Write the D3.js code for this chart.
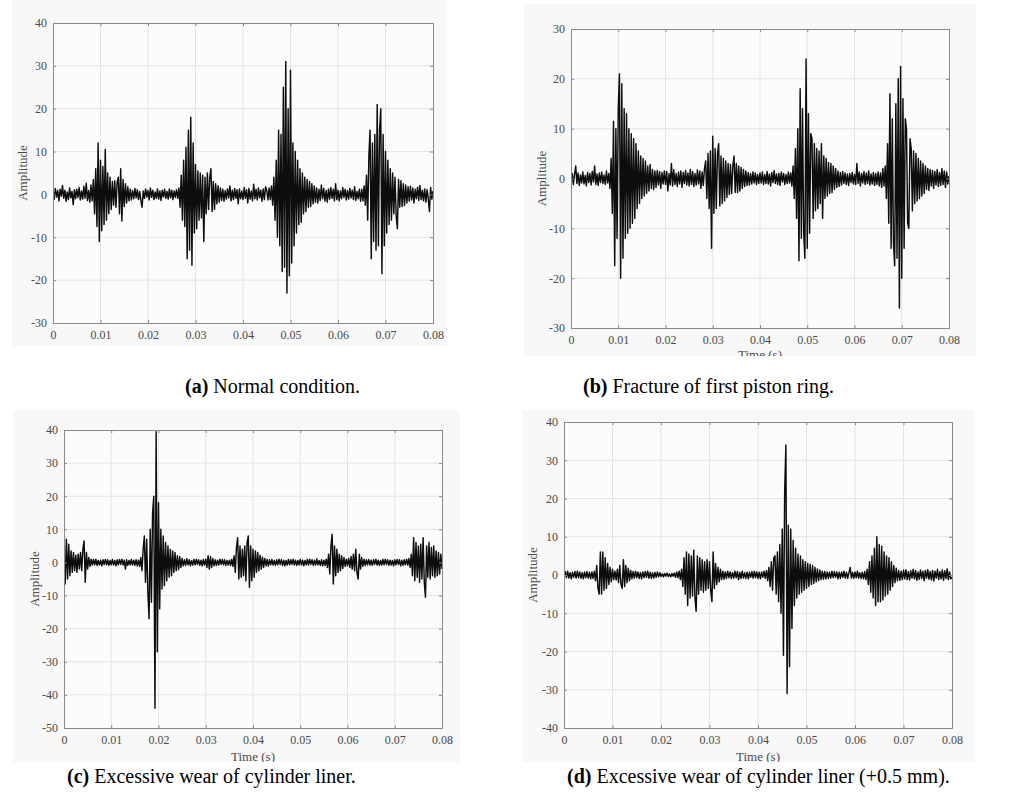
<!DOCTYPE html>
<html>
<head>
<meta charset="utf-8">
<script src="https://cdn.jsdelivr.net/npm/d3@7"></script>
<style>
  body { margin: 0; background: #fff; }
  text { font-family: "Liberation Serif", "Times New Roman", serif; }
</style>
</head>
<body>
<svg id="fig" width="1020" height="809"></svg>
<script>
// Sampling interval of the vibration records (s); each row below spans 0.005 s
const sampleStep = 0.00025;

// Time axis ticks shared by every panel
const timeTicks = [0, 0.01, 0.02, 0.03, 0.04, 0.05, 0.06, 0.07, 0.08];
const timeTickLabels = ["0", "0.01", "0.02", "0.03", "0.04", "0.05", "0.06", "0.07", "0.08"];

// (a) Normal condition
const normalSignal = [
  0.3, -1.1, 1.4, -0.6, 0.9, -1.5, 1.2, -0.4, 2.1, -0.9, 1.0, -1.6, 0.6, -1.2, 1.5, -0.8, 0.7, -2.4, 1.1, -1.0,
  1.2, -0.7, 1.6, -1.3, 0.8, -1.1, 1.9, -0.9, 2.6, -1.4, 0.9, -1.8, 2.2, -1.5, 3.5, -4.5, 6.0, -7.5, 12.0, -11.0,
  8.0, -8.5, 6.5, -7.0, 10.5, -6.0, 5.0, -4.5, 4.0, -3.5, 3.0, -2.5, 3.2, -3.0, 2.8, 4.0, -4.5, 6.0, -6.2, 3.5,
  -2.8, 2.5, -2.0, 1.8, -1.5, 1.2, -1.3, 0.9, -1.0, 1.4, -0.8, 1.1, -1.2, 0.7, -1.4, -3.0, 0.8, -0.9, 1.3, -0.6,
  0.9, -1.3, 1.5, -0.7, 1.0, -1.2, 0.6, -0.9, 1.3, -1.1, 0.8, -1.4, 1.0, -0.6, 1.2, -0.9, 0.7, -1.1, 1.3, -0.8,
  1.0, -1.2, 0.8, -0.7, 1.1, -0.9, 1.5, -3.0, 4.5, -6.0, 8.0, -7.5, 11.0, -15.0, 15.0, -13.0, 18.0, -16.5, 12.0, -9.0,
  7.0, -8.0, 5.5, -6.0, 5.0, -5.5, 4.5, -11.0, 4.0, -4.5, 5.0, -3.5, 4.0, 6.0, -4.0, 3.0, -3.5, 2.5, -2.2, 2.0,
  -1.8, 1.5, -1.4, 1.2, -1.6, 0.9, -1.1, 1.3, -0.8, 2.0, -1.5, 1.0, -1.2, 1.4, -0.9, 1.1, -2.2, 1.3, -1.0, 0.8,
  -1.2, 1.6, -0.9, 1.1, -2.0, 1.4, -1.1, 0.8, -1.5, 2.4, -1.0, 1.2, -1.3, 1.5, -0.8, 1.0, -1.6, 1.3, -1.2, 1.8,
  1.0, -1.3, 1.5, -1.2, 2.0, -2.5, 4.0, -6.0, 8.0, -10.0, 15.0, -12.0, 14.0, -18.0, 25.0, -17.0, 31.0, -23.0, 20.0, -19.0,
  29.0, -16.0, 12.0, -12.0, 10.0, -9.0, 8.0, -7.0, 6.0, -6.5, 5.0, -4.5, 4.0, -4.0, 3.5, -3.0, 3.0, -2.8, 2.5, -2.2,
  2.0, -1.8, 1.5, -2.0, 1.2, -1.4, 2.2, -1.0, 1.4, -1.6, 0.9, -1.8, 1.3, -1.1, 1.6, -0.9, 1.2, -1.5, 2.5, -1.2,
  1.0, -1.5, 0.8, -1.0, 1.6, -0.7, 1.2, -1.3, 0.9, -1.1, 1.4, -0.8, 1.0, -1.2, 1.8, -1.4, 0.7, -1.0, 1.2, -1.6,
  1.2, -1.5, 2.0, -2.5, 4.5, -6.0, 9.0, 15.0, -15.0, 12.0, -11.0, 14.0, -13.0, 21.0, -12.0, 15.0, 20.0, -18.5, 14.0, -12.0,
  10.0, -9.0, 8.0, -7.0, 6.0, -6.0, 5.0, -4.5, 4.0, -5.0, -8.0, 3.5, -3.0, 3.2, -2.8, 2.5, -2.6, 2.2, -2.0, 1.8,
  -1.6, 1.9, -1.3, 1.5, -2.0, 1.2, -1.0, 1.7, -1.4, 2.1, -1.2, 1.0, -1.5, 1.3, -1.8, 1.1, -1.0, -4.0, 1.6, -1.1,
  0.8
];

// (b) Fracture of first piston ring
const fractureSignal = [
  -0.6, 1.0, -1.2, 0.8, 2.5, -1.0, 1.1, -1.4, 0.7, -0.9, 1.3, -1.1, 0.6, -1.5, 1.2, -0.8, 1.0, -1.3, 1.4, -0.7,
  2.5, -1.2, 0.9, -1.4, 1.1, -0.8, 1.3, -1.0, 0.7, -1.2, 1.5, -0.9, 1.0, -2.0, 4.0, -7.0, 11.5, -17.5, 10.0, -12.0,
  14.0, 21.0, -20.0, 19.0, -16.0, 14.0, -12.0, 13.0, -11.0, 10.0, -10.0, 9.0, -9.0, 8.0, -8.0, 7.0, -6.0, 5.5, -5.0, 4.5,
  -4.0, 4.0, -3.5, 3.5, -3.0, 2.5, -2.5, 2.8, -2.0, 1.8, -2.2, 1.5, -1.8, 1.6, -1.3, 1.4, -2.0, 1.2, -1.1, 1.5,
  -1.2, 1.4, -2.5, 1.0, -1.3, 3.0, -1.5, 1.8, -1.2, 1.0, -1.6, 1.3, -1.1, 1.5, -1.8, 1.2, -1.0, 1.6, -1.3, 1.1,
  -1.5, 1.8, -1.2, 1.4, -1.6, 1.0, -1.3, 1.7, -1.1, 1.5, -2.0, 1.3, -1.4, 2.0, 3.5, -4.0, 5.0, -6.0, 5.5, -14.0,
  8.5, -7.0, 6.0, -6.0, 5.0, 7.0, -5.5, 4.5, -5.0, 4.0, -4.5, 3.5, -3.8, 3.0, -3.2, 2.8, -3.0, 2.5, 4.5, -2.8,
  3.0, -2.8, 2.5, -2.5, 2.2, -2.0, 1.8, -1.6, 1.5, -1.4, 1.2, -1.3, 1.0, -1.1, 1.3, -0.9, 1.1, -1.2, 0.8, -1.0,
  1.1, -0.9, 1.3, -1.2, 0.8, -1.0, 1.4, -1.1, 0.9, -1.5, 1.2, -0.8, 1.6, -1.0, 0.9, -1.2, 1.0, -1.4, 1.3, -0.7,
  1.0, -1.2, 0.8, -1.0, 1.3, -0.9, 1.1, -1.5, 2.5, -4.0, 6.0, -8.0, 10.0, -16.5, 18.0, -12.0, 14.0, -11.0, -16.0, 24.0,
  -14.0, 13.0, -11.0, 9.0, 8.0, -8.0, 7.0, -6.5, 6.0, -6.0, 5.5, -5.0, 7.0, -8.0, 4.5, -4.0, 4.0, -3.5, 3.2, -3.0,
  3.0, -2.8, 2.5, -2.2, 2.0, -1.8, 1.5, -1.6, 1.2, -1.3, 1.4, -1.0, 1.1, -1.2, 0.9, -1.4, 1.0, -0.8, 1.2, -1.1,
  0.8, -1.2, 3.0, -1.0, 1.3, -1.5, 1.0, -0.9, 1.4, -1.2, 1.1, -1.0, 1.5, -1.3, 0.9, -1.1, 1.2, -1.4, 1.0, -1.2,
  1.3, -1.5, 1.1, -1.8, 2.0, -1.5, 2.5, -4.0, 7.0, -9.0, 17.0, -14.0, 12.0, -13.0, -17.5, 15.0, -16.0, 20.0, -26.0, 22.5,
  -20.0, 16.0, -14.0, 12.0, 10.0, -9.0, -10.0, 8.0, 6.0, -6.5, 5.5, -5.0, 5.0, -4.5, 4.0, -4.0, 3.5, -3.5, 3.0, -3.0,
  2.5, -2.2, 2.0, -2.4, 1.8, -1.5, 1.6, -2.0, 1.4, -1.3, 1.8, -1.6, 1.2, -1.4, 2.0, -1.2, 1.5, -1.8, 1.3, -1.1,
  0.5
];

// (c) Excessive wear of cylinder liner
const wearSignal = [
  3.0, -6.5, 7.0, -5.0, 5.5, -4.0, 3.5, -3.0, 3.0, -2.5, 2.2, -3.0, 2.5, -2.0, 3.0, -2.5, 4.0, 6.5, -6.0, 3.0,
  -2.0, 1.5, -1.2, 1.0, -0.8, 0.9, -0.7, 1.0, -0.9, 0.6, -0.8, 0.7, -1.0, 0.8, -0.6, 0.9, -0.7, 0.8, -0.9, 0.6,
  -0.7, 0.9, -0.8, 0.6, -1.0, 0.8, -0.7, 0.9, -0.6, 1.0, -0.8, 0.7, -2.0, 0.8, -0.9, 0.6, -0.7, 0.9, -0.8, 0.7,
  -0.9, 0.8, -1.0, 0.7, -1.2, 1.5, -2.5, 4.0, 8.0, -6.0, 7.0, -9.0, -17.0, 10.0, -12.0, 15.0, 20.0, -44.0, 39.5, -27.0,
  18.0, -14.0, 10.0, -8.0, 8.0, -7.0, 6.0, -5.5, 5.0, -4.5, 4.0, -4.0, 3.5, -3.0, 3.0, -2.5, 2.0, -2.2, 1.8, -1.5,
  1.2, -1.0, 0.8, -0.9, 1.1, -0.7, 0.8, -1.0, 0.6, -0.8, 0.9, -0.7, 1.0, -0.6, 0.8, -0.9, 0.7, -1.0, 0.9, -0.8,
  1.0, -1.5, 2.0, -2.0, 1.8, -1.5, 1.2, -1.0, 0.8, -0.9, 0.7, -0.8, 1.0, -0.6, 0.9, -0.7, 0.8, -0.9, 0.6, -0.8,
  0.7, -0.9, 1.0, -1.2, 2.0, -3.0, 4.5, 7.5, -5.0, 5.0, -4.5, 4.0, -4.0, 5.0, -5.5, 6.0, 8.0, -7.5, 5.0, -5.5,
  4.0, -4.5, 3.5, -3.0, 3.0, -2.5, 2.2, -2.0, 1.6, -1.5, 1.2, -1.0, 0.9, -1.1, 0.8, -0.7, 0.9, -0.8, 0.6, -0.9,
  0.8, -0.7, 1.0, -0.6, 0.8, -0.9, 0.7, -1.0, 0.6, -0.8, 0.9, -0.7, 0.8, -0.6, 1.0, -0.8, 0.7, -0.9, 0.6, -0.7,
  0.9, -0.8, 0.7, -1.0, 0.6, -0.7, 0.9, -0.8, 1.0, -0.6, 0.8, -0.9, 0.7, -0.8, 1.1, -0.7, 0.6, -0.9, 0.8, -1.0,
  0.7, -0.9, 1.0, -1.5, 2.5, -3.5, 5.0, 8.5, -6.5, 5.0, -4.0, 4.0, -3.0, 2.5, -2.5, 2.0, -1.8, 1.5, -1.2, 1.0,
  -1.0, 1.2, -1.5, 1.8, -2.0, 2.5, -2.5, 4.0, -3.0, -5.0, 2.5, -2.0, 1.5, -1.2, 1.0, -0.9, 0.8, -0.7, 0.9, -0.8,
  0.7, -0.9, 0.8, -0.6, 1.0, -0.8, 0.7, -0.9, 0.6, -0.8, 0.9, -0.7, 1.0, -0.6, 0.8, -0.9, 0.7, -0.8, 0.6, -1.0,
  0.8, -0.7, 0.9, -0.6, 0.8, -1.0, 0.7, -0.9, 0.8, -0.7, 1.0, -0.8, 1.2, -1.5, 2.5, -4.0, 7.5, -5.5, 6.0, -4.5,
  5.0, -6.0, 5.5, -5.0, 7.5, -6.0, -10.5, 5.0, -4.5, 6.0, -5.0, 4.5, -4.0, 5.0, -4.5, 3.5, -4.0, 3.0, -3.5, 2.5,
  -2.0
];

// (d) Excessive wear of cylinder liner (+0.5 mm)
const wearPlusSignal = [
  -0.4, 0.9, -0.7, 1.0, -0.8, 0.6, -1.0, 0.7, -0.6, 0.9, -0.8, 1.0, -0.7, 0.8, -0.9, 0.6, -1.0, 0.8, -0.7, 0.9,
  -0.8, 0.7, -1.0, 0.8, -0.9, 1.0, -1.5, 2.5, -3.5, -5.0, 6.0, -5.0, 6.0, -4.0, 4.5, -3.5, 3.0, -2.5, 2.0, -1.8,
  1.5, -1.2, 1.0, -1.3, 1.5, -2.0, 2.5, -2.5, -3.5, 4.0, -3.0, 2.5, -2.0, 1.8, -1.5, 1.2, -1.0, 0.9, -0.8, 1.0,
  -0.7, 0.8, -0.9, 0.6, -1.0, 0.8, -0.7, 0.9, -0.6, 1.0, -0.8, 0.7, -0.9, 0.6, -0.8, 0.7, -0.6, 0.8, -0.5, 0.6,
  -0.4, 0.3, -0.5, 0.4, -0.3, 0.5, -0.4, 0.3, -0.5, 0.4, -0.3, 0.5, -0.6, 0.8, -0.7, 1.0, -1.2, 1.5, -3.0, 4.5,
  -5.0, 6.0, -8.0, 5.5, -6.0, 5.0, -5.5, 6.5, -6.0, -9.5, 5.0, -5.0, 4.5, -4.0, 4.0, -4.5, 3.5, -4.0, 4.0, -3.5,
  3.5, -4.0, -7.0, 6.0, -3.5, 3.0, -2.5, 2.0, -1.8, 1.5, -1.2, 1.0, -1.1, 0.8, -0.9, 1.0, -0.7, 0.8, -0.9, 0.6,
  -0.8, 1.0, -0.7, 0.9, -1.2, 0.7, -0.9, 1.0, -0.8, 0.6, -0.9, 0.8, -1.0, 0.7, -0.6, 0.9, -0.8, 1.0, -0.7, 0.8,
  -0.9, 0.7, -1.0, 0.8, -0.6, 1.0, -0.9, 1.2, -1.5, 2.0, -3.0, 3.5, -4.0, 4.5, 5.0, -5.0, 6.0, -7.0, 8.0, -10.0,
  12.0, -21.0, 22.0, 34.0, -31.0, 13.0, -24.0, 12.0, -14.0, 9.0, -8.0, 7.0, -6.0, 5.5, -5.0, 5.0, -4.5, 4.0, -4.0, 3.5,
  -3.5, 3.0, -3.0, 2.8, -2.5, 2.5, -2.2, 2.0, -1.8, 1.6, -1.5, 1.3, -1.2, 1.0, -1.1, 0.9, -1.0, 0.8, -0.9, 0.7,
  -0.8, 1.0, -0.7, 0.9, -0.6, 0.8, -1.0, 0.7, -0.9, 0.8, -0.6, 1.0, -0.8, 0.7, -0.9, 0.6, 2.0, -0.8, 0.7, -0.9,
  0.8, -0.7, 1.0, -0.8, 0.6, -0.9, 0.7, -1.0, 0.9, -1.2, 1.5, -2.5, 3.5, -4.5, 5.0, -6.0, 7.0, -8.0, 10.0, -7.0,
  8.0, -7.0, 7.5, -6.5, 6.0, -5.5, 5.0, -5.0, 4.5, -4.0, 3.5, -3.0, 2.5, -2.0, 1.8, -1.5, 1.2, -1.4, 1.0, -1.2,
  1.3, -1.0, 1.4, -1.2, 0.9, -1.3, 1.1, -0.8, 1.5, -1.0, 1.2, -1.4, 0.8, -1.1, 1.3, -0.9, 1.0, -1.5, 1.2, -0.8,
  1.4, -1.1, 0.9, -1.3, 1.2, -1.6, 1.0, -0.8, 1.5, -1.2, 0.9, -1.0, 1.3, -1.4, 1.1, -0.9, 1.6, -1.2, 0.8, -1.0,
  -0.6
];

// Amplitude ticks for each panel
const ticksA = [-30, -20, -10, 0, 10, 20, 30, 40];
const ticksB = [-30, -20, -10, 0, 10, 20, 30];
const ticksC = [-50, -40, -30, -20, -10, 0, 10, 20, 30, 40];
const ticksD = [-40, -30, -20, -10, 0, 10, 20, 30, 40];

// Caption parts
const captionTags = ["(a)", "(b)", "(c)", "(d)"];
const captionTexts = [
  " Normal condition.",
  " Fracture of first piston ring.",
  " Excessive wear of cylinder liner.",
  " Excessive wear of cylinder liner (+0.5 mm)."
];

// Layout of the four sub-figures
const panels = [
  { signal: normalSignal,   yTicks: ticksA, plot: { x0: 53,  x1: 433, y0: 23,  y1: 323 },
    bg: { x: 12,  y: 0,   w: 435, h: 347 }, ampX: 22,  timeY: 356, cap: { x: 185, y: 393 } },
  { signal: fractureSignal, yTicks: ticksB, plot: { x0: 571, x1: 949, y0: 29,  y1: 328 },
    bg: { x: 524, y: 4,   w: 452, h: 352 }, ampX: 541, timeY: 359, cap: { x: 583, y: 393 } },
  { signal: wearSignal,     yTicks: ticksC, plot: { x0: 64,  x1: 442, y0: 430, y1: 728 },
    bg: { x: 13,  y: 410, w: 447, h: 352 }, ampX: 34,  timeY: 761, cap: { x: 67,  y: 783 } },
  { signal: wearPlusSignal, yTicks: ticksD, plot: { x0: 564, x1: 952, y0: 422, y1: 728 },
    bg: { x: 523, y: 410, w: 452, h: 352 }, ampX: 532, timeY: 761, cap: { x: 567, y: 783 } }
];

const svg = d3.select("#fig");
svg.append("rect").attr("width", 1020).attr("height", 809).attr("fill", "#ffffff");

// thin rule above panel (b)
svg.append("line").attr("x1", 524).attr("x2", 976).attr("y1", 4.5).attr("y2", 4.5)
  .attr("stroke", "#c4c4c4").attr("stroke-width", 1);

panels.forEach((p, k) => {
  const g = svg.append("g");
  const clipId = "clip" + k;

  // faint backdrop of the sub-figure
  g.append("rect").attr("x", p.bg.x).attr("y", p.bg.y).attr("width", p.bg.w).attr("height", p.bg.h)
    .attr("fill", "#f8f8f8");

  const x = d3.scaleLinear().domain([0, 0.08]).range([p.plot.x0, p.plot.x1]);
  const y = d3.scaleLinear().domain(d3.extent(p.yTicks)).range([p.plot.y1, p.plot.y0]);

  g.append("rect").attr("x", p.plot.x0).attr("y", p.plot.y0)
    .attr("width", p.plot.x1 - p.plot.x0).attr("height", p.plot.y1 - p.plot.y0)
    .attr("fill", "#fcfcfc");

  // grid
  g.append("g").selectAll("line").data(timeTicks.slice(1, -1)).join("line")
    .attr("x1", d => x(d)).attr("x2", d => x(d)).attr("y1", p.plot.y0).attr("y2", p.plot.y1)
    .attr("stroke", "#e4e4e4").attr("stroke-width", 1);
  g.append("g").selectAll("line").data(p.yTicks.slice(1, -1)).join("line")
    .attr("y1", d => y(d)).attr("y2", d => y(d)).attr("x1", p.plot.x0).attr("x2", p.plot.x1)
    .attr("stroke", "#e4e4e4").attr("stroke-width", 1);

  // signal trace
  g.append("clipPath").attr("id", clipId).append("rect")
    .attr("x", p.plot.x0).attr("y", p.plot.y0)
    .attr("width", p.plot.x1 - p.plot.x0).attr("height", p.plot.y1 - p.plot.y0);
  const pts = p.signal.map((v, i) => [i * sampleStep, v]);
  const line = d3.line().x(d => x(d[0])).y(d => y(d[1]));
  g.append("path").datum(pts).attr("d", line)
    .attr("clip-path", `url(#${clipId})`)
    .attr("fill", "none").attr("stroke", "#0d0d0d").attr("stroke-width", 1.45)
    .attr("stroke-linejoin", "round");

  // axes (inward ticks, boxed)
  const axB = d3.axisBottom(x).tickValues(timeTicks).tickSize(-3).tickPadding(7)
    .tickFormat((d, i) => timeTickLabels[i]);
  const axT = d3.axisTop(x).tickValues(timeTicks).tickSize(-3).tickFormat("");
  const axL = d3.axisLeft(y).tickValues(p.yTicks).tickSize(-3).tickPadding(6).tickFormat(d => String(d));
  const axR = d3.axisRight(y).tickValues(p.yTicks).tickSize(-3).tickFormat("");

  const styleAxis = sel => {
    sel.attr("font-family", null);
    sel.select(".domain").attr("stroke", "#8a8a8a");
    sel.selectAll(".tick line").attr("stroke", "#8a8a8a");
    sel.selectAll(".tick text").attr("fill", "#4a4a4a")
      .style("font-family", '"Liberation Serif", "Times New Roman", serif').style("font-size", "12px");
  };
  g.append("g").attr("transform", `translate(0,${p.plot.y1})`).call(axB).call(styleAxis);
  g.append("g").attr("transform", `translate(0,${p.plot.y0})`).call(axT).call(styleAxis);
  g.append("g").attr("transform", `translate(${p.plot.x0},0)`).call(axL).call(styleAxis);
  g.append("g").attr("transform", `translate(${p.plot.x1},0)`).call(axR).call(styleAxis);

  // axis titles
  g.append("text").attr("transform", `translate(${p.ampX},${(p.plot.y0 + p.plot.y1) / 2}) rotate(-90)`)
    .attr("text-anchor", "middle").attr("dy", "0.35em")
    .attr("fill", "#4a4a4a").style("font-size", "13px").text("Amplitude");
  g.append("text").attr("x", (p.plot.x0 + p.plot.x1) / 2).attr("y", p.timeY)
    .attr("text-anchor", "middle").attr("fill", "#4a4a4a").style("font-size", "13px").text("Time (s)");
});

// white band under each row of sub-figures, trimming the lower axis titles
svg.append("rect").attr("x", 0).attr("y", 356).attr("width", 1020).attr("height", 54).attr("fill", "#fff");
svg.append("rect").attr("x", 0).attr("y", 347).attr("width", 520).attr("height", 10).attr("fill", "#fff");
svg.append("rect").attr("x", 0).attr("y", 762).attr("width", 1020).attr("height", 47).attr("fill", "#fff");

// captions
panels.forEach((p, k) => {
  const t = svg.append("text").attr("x", p.cap.x).attr("y", p.cap.y)
    .attr("fill", "#000").style("font-size", "20px");
  t.append("tspan").style("font-weight", "bold").text(captionTags[k]);
  t.append("tspan").text(captionTexts[k]);
});
</script>
</body>
</html>
